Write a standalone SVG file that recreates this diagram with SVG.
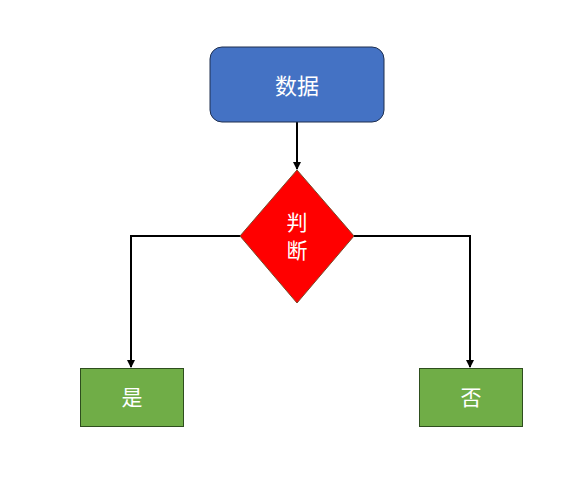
<svg xmlns="http://www.w3.org/2000/svg" width="564" height="496" viewBox="0 0 564 496">
  <style>
    .lbl { font-family: "Noto Sans CJK SC", "Liberation Sans", sans-serif; fill: #ffffff; text-anchor: middle; dominant-baseline: central; }
    .edge { fill: none; stroke: #000000; stroke-width: 2; }
    .leaf { fill: #70AD47; stroke: #2E4E1E; stroke-width: 1; }
  </style>
  <defs>
    <marker id="arrow" markerWidth="8" markerHeight="8" refX="7" refY="4" orient="auto" markerUnits="userSpaceOnUse">
      <path d="M0,0 L8,4 L0,8 Z" fill="#000000"/>
    </marker>
  </defs>
  <rect width="564" height="496" fill="#ffffff"/>

  <g id="connectors">
    <path class="edge" d="M297,122 V169" marker-end="url(#arrow)"/>
    <path class="edge" d="M240,236 H131 V367" marker-end="url(#arrow)"/>
    <path class="edge" d="M354,236 H470 V367" marker-end="url(#arrow)"/>
  </g>

  <g id="data">
    <rect x="210" y="47" width="174" height="75" rx="12" ry="12" fill="#4472C4" stroke="#1F2F4F" stroke-width="1"/>
    <text class="lbl" x="297" y="84" font-size="22">数据</text>
  </g>

  <g id="decision">
    <polygon points="297,170 354,236 297,303 240,236" fill="#FF0000" stroke="#7A4A2A" stroke-width="1"/>
    <text class="lbl" x="297" y="221" font-size="21">判</text>
    <text class="lbl" x="297" y="249" font-size="21">断</text>
  </g>

  <g id="yes">
    <rect class="leaf" x="80.5" y="368.5" width="103" height="58"/>
    <text class="lbl" x="132" y="396" font-size="21">是</text>
  </g>

  <g id="no">
    <rect class="leaf" x="419.5" y="368.5" width="103" height="58"/>
    <text class="lbl" x="471" y="396" font-size="21">否</text>
  </g>
</svg>
